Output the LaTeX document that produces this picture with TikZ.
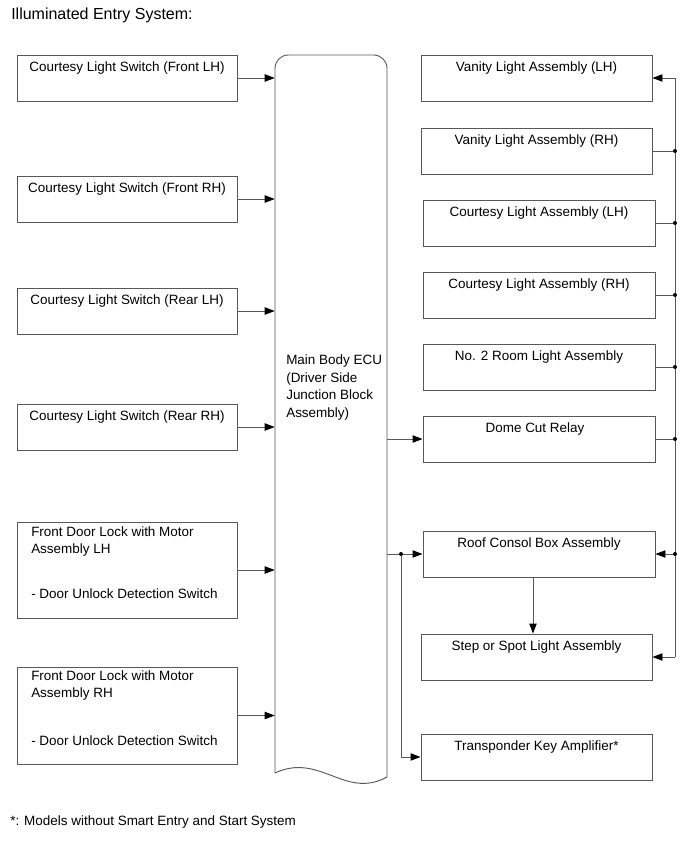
\documentclass[tikz,border=0pt]{standalone}
\usepackage{fontspec}
\setmainfont{Liberation Sans}
\usetikzlibrary{arrows.meta,fit,calc}
\begin{document}
\begin{tikzpicture}[x=0.75pt,y=-0.75pt,
  every node/.style={font=\fontsize{10.1}{13.3}\selectfont, inner sep=0pt},
  boxsty/.style={draw=black!65, line width=0.7pt, rectangle, inner sep=0pt},
  txt/.style={anchor=base},
  ltxt/.style={anchor=base west},
  wire/.style={draw=black!65, line width=0.7pt},
  arr/.style={wire, -{Triangle[length=7.5pt,width=5.5pt,color=black]}},
  dot/.style={circle, fill=black, minimum size=3pt, inner sep=0pt}]
\useasboundingbox (0,0) rectangle (690,853);

% title and footnote
\node[ltxt, font=\fontsize{12}{14}\selectfont] (title) at (11,19) {Illuminated Entry System:};
\node[ltxt] (foot) at (10,825) {*: Models without Smart Entry and Start System};

% left boxes
\node[boxsty, fit={(17,55)(237,101)}] (L1) {};
\node[txt] (L1t) at ($(L1.north)+(0,17)$) {Courtesy Light Switch (Front LH)};
\node[boxsty, fit={(17,176)(237,222)}] (L2) {};
\node[txt] (L2t) at ($(L2.north)+(0,17)$) {Courtesy Light Switch (Front RH)};
\node[boxsty, fit={(17,288)(237,334)}] (L3) {};
\node[txt] (L3t) at ($(L3.north)+(0,17)$) {Courtesy Light Switch (Rear LH)};
\node[boxsty, fit={(17,404)(237,450)}] (L4) {};
\node[txt] (L4t) at ($(L4.north)+(0,17)$) {Courtesy Light Switch (Rear RH)};
\node[boxsty, fit={(17,522)(237,618)}] (L5) {};
\node[ltxt] (L5a) at (31,536) {Front Door Lock with Motor};
\node[ltxt] (L5b) at (31,553) {Assembly LH};
\node[ltxt] (L5s) at (31,598) {- Door Unlock Detection Switch};
\node[boxsty, fit={(17,667)(237,764)}] (L6) {};
\node[ltxt] (L6a) at (31,680) {Front Door Lock with Motor};
\node[ltxt] (L6b) at (31,697) {Assembly RH};
\node[ltxt] (L6s) at (31,745) {- Door Unlock Detection Switch};

% ECU
\draw[wire] (275,773) [rounded corners=10pt] -- (275,55) -- (387,55) [sharp corners] -- (387,777)
  .. controls (345,800) and (320,752) .. (275,773);
\node[fit={(275,55)(387,773)}] (ecu) {};
\node[ltxt] (ecu1) at (286,364) {Main Body ECU};
\node[ltxt] (ecu2) at (286,382) {(Driver Side};
\node[ltxt] (ecu3) at (286,399.5) {Junction Block};
\node[ltxt] (ecu4) at (286,417) {Assembly)};

% right boxes
\node[boxsty, fit={(421,55)(652,101)}] (R1) {};
\node[txt] (R1t) at ($(R1.north)+(0,17)$) {Vanity Light Assembly (LH)};
\node[boxsty, fit={(421,128)(652,174)}] (R2) {};
\node[txt] (R2t) at ($(R2.north)+(0,17)$) {Vanity Light Assembly (RH)};
\node[boxsty, fit={(423,200)(655,246)}] (R3) {};
\node[txt] (R3t) at ($(R3.north)+(0,17)$) {Courtesy Light Assembly (LH)};
\node[boxsty, fit={(423,272)(655,318)}] (R4) {};
\node[txt] (R4t) at ($(R4.north)+(0,17)$) {Courtesy Light Assembly (RH)};
\node[boxsty, fit={(423,344)(655,390)}] (R5) {};
\node[txt] (R5t) at ($(R5.north)+(0,17)$) {No. 2 Room Light Assembly};
\node[boxsty, fit={(423,416)(655,462)}] (R6) {};
\node[txt] (R6t) at ($(R6.north)+(-4,17)$) {Dome Cut Relay};
\node[boxsty, fit={(423,531)(655,577)}] (R7) {};
\node[txt] (R7t) at ($(R7.north)+(0,17)$) {Roof Consol Box Assembly};
\node[boxsty, fit={(421,634)(652,680)}] (R8) {};
\node[txt] (R8t) at ($(R8.north)+(0,17)$) {Step or Spot Light Assembly};
\node[boxsty, fit={(421,734)(652,780)}] (R9) {};
\node[txt] (R9t) at ($(R9.north)+(0,17)$) {Transponder Key Amplifier*};

% inputs to ECU
\foreach \n in {L1,L2,L3,L4,L5,L6}
  \draw[arr] (\n.east) -- (\n.east -| ecu.west);

% ECU outputs
\draw[arr] (R6.west -| ecu.east) -- (R6.west);
\coordinate (sp) at (401,554);
\draw[arr] (R7.west -| ecu.east) -- (R7.west);
\node[dot] (spd) at (R7.west -| sp) {};
\draw[arr] (spd) |- (R9.west);

% roof -> step
\coordinate (rs) at ($(R7.south)+(-6,0)$);
\draw[arr] (rs) -- (rs |- R8.north);

% right bus
\coordinate (btop) at (675,78);
\coordinate (bbot) at (675,657);
\draw[wire] (R1.east -| btop) -- (R8.east -| bbot);
\draw[arr] (R1.east -| btop) -- (R1.east);
\draw[arr] (R8.east -| bbot) -- (R8.east);
\foreach \n in {R2,R3,R4,R5,R6} {
  \draw[wire] (\n.east) -- (\n.east -| btop);
  \node[dot] at (\n.east -| btop) {};
}
\node[dot] (r7d) at (R7.east -| btop) {};
\draw[arr] (r7d) -- (R7.east);
\end{tikzpicture}
\end{document}
